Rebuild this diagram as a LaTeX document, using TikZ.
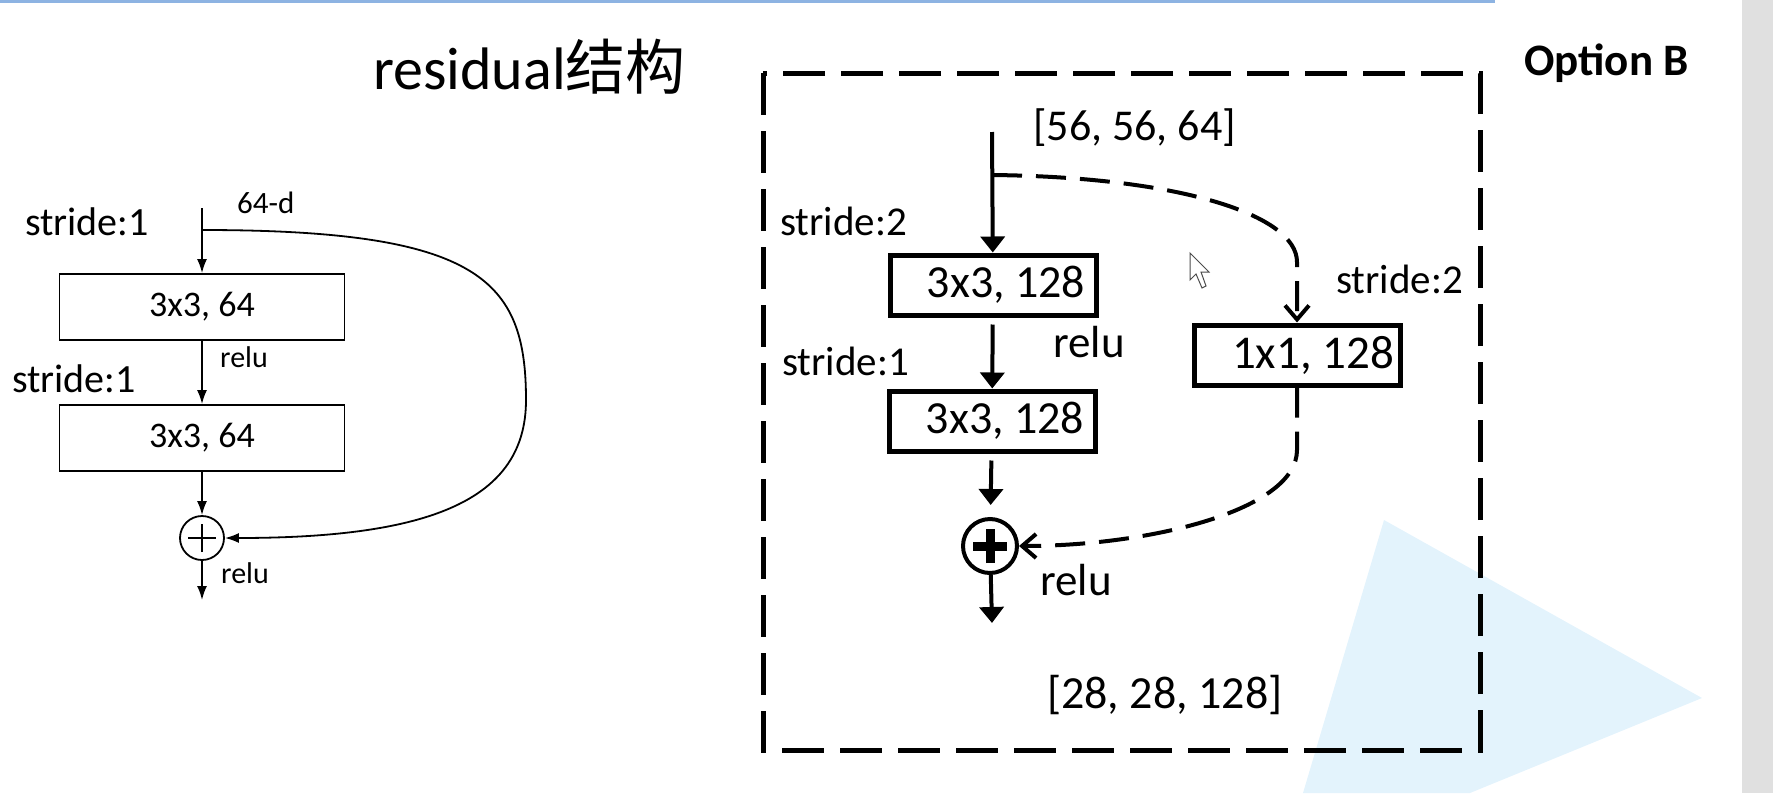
\documentclass[tikz,border=0pt]{standalone}
\usepackage{fontspec}
\setmainfont{Carlito}
\newfontfamily\cjk{Noto Sans CJK SC}
\usetikzlibrary{arrows.meta}

\definecolor{slideblue}{RGB}{141,179,226}
\definecolor{paleblue}{RGB}{227,243,252}
\definecolor{bargray}{RGB}{224,224,224}
\newcommand{\fsz}[1]{\fontsize{#1}{#1}\selectfont}

\begin{document}
\begin{tikzpicture}[x=1pt, y=-1pt,
		lbox/.style={draw, line width=1.8pt, minimum width=285pt, minimum height=66pt, inner sep=2pt, font=\fsz{36}},
		rbox/.style={draw, line width=5pt, minimum width=206pt, minimum height=60pt, inner sep=2pt, font=\fsz{46}},
		lbl/.style={anchor=base west, inner sep=0pt},
		larr/.style={-{Latex[length=14pt,width=10pt]}, line width=1.8pt},
		rarr/.style={-{Triangle[length=16pt,width=24pt]}, line width=4pt},
		darr/.style={-{Straight Barb[length=14pt,width=24pt]}, line width=4pt, dash pattern=on 30pt off 14pt}]
	\useasboundingbox (0,0) rectangle (1773,793);
	\fill[paleblue] (1384,520) -- (1702,698) -- (1470,793) -- (1303,793) -- cycle;
	\fill[bargray] (1742,0) rectangle (1773,793);
	\draw[slideblue, line width=3pt] (0,1.5) -- (1495,1.5);

	\node[lbl, font=\fsz{60}] (title) at (373,89) {residual{\cjk 结构}};
	\node[lbl, font=\fsz{45}\bfseries] (optb) at (1524,75) {Option B};

	% plain block
	\node[lbox] (lc1) at (202,307) {3x3, 64};
	\node[lbox] (lc2) at (202,438) {3x3, 64};
	\node[circle, draw, line width=1.8pt, minimum size=44pt, inner sep=0pt] (lplus) at (202,538) {};
	\draw[line width=1.5pt] ([xshift=-14pt]lplus.center) -- ([xshift=14pt]lplus.center)
		([yshift=-14pt]lplus.center) -- ([yshift=14pt]lplus.center);
	\coordinate (lin) at (202,208);
	\coordinate (lsplit) at (202,230);
	\coordinate (lout) at (202,600);
	\draw[larr] (lin) -- (lc1);
	\draw[larr] (lc1) -- (lc2);
	\draw[larr] (lc2) -- (lplus);
	\draw[larr] (lplus) -- (lout);
	\draw[larr] (lsplit) .. controls (480,230) and (526,280) .. (526,400) .. controls (526,500) and (430,538) .. (lplus.east);
	\node[lbl, font=\fsz{31}] (ldim) at (237,213) {64-d};
	\node[lbl, font=\fsz{40}] (lstride1) at (25,235) {stride:1};
	\node[lbl, font=\fsz{30}] (lrelu1) at (220,367) {relu};
	\node[lbl, font=\fsz{40}] (lstride2) at (12,392) {stride:1};
	\node[lbl, font=\fsz{30}] (lrelu2) at (221,583) {relu};

	% option B block
	\draw[line width=5pt, dash pattern=on 42pt off 16pt] (763,73) rectangle (1480,750);
	\node[rbox] (rc1) at (993,285) {\hspace*{26pt}3x3, 128};
	\node[rbox] (rc2) at (992,421) {\hspace*{26pt}3x3, 128};
	\node[rbox, font=\fsz{47}] (rsc) at (1297,355) {\hspace*{32pt}1x1, 128};
	\node[circle, draw, line width=4pt, minimum size=54pt, inner sep=0pt] (rplus) at (990,546) {};
	\draw[line width=9pt] ([xshift=-17pt]rplus.center) -- ([xshift=17pt]rplus.center)
		([yshift=-17pt]rplus.center) -- ([yshift=17pt]rplus.center);
	\coordinate (rin) at (992,132);
	\coordinate (rsplit) at (992,175);
	\coordinate (rout) at (992,623);
	\draw[rarr] (rin) -- (rc1);
	\draw[rarr, shorten <=7pt] (rc1) -- (rc2);
	\draw[rarr, shorten <=7pt, shorten >=12pt] (rc2) -- (rplus);
	\draw[rarr] (rplus) -- (rout);
	\draw[darr] (rsplit) .. controls (1180,177) and (1297,215) .. (1297,262) -- (rsc);
	\draw[darr] (rsc) -- (1297,450) .. controls (1297,510) and (1150,546) .. (rplus);
	\node[lbl, font=\fsz{44}] (rindim) at (1033,140) {[56, 56, 64]};
	\node[lbl, font=\fsz{41}] (rstride1) at (780,235) {stride:2};
	\node[lbl, font=\fsz{45}] (rrelu1) at (1053,357) {relu};
	\node[lbl, font=\fsz{41}] (rstride2) at (782,375) {stride:1};
	\node[lbl, font=\fsz{41}] (rstride3) at (1336,293) {stride:2};
	\node[lbl, font=\fsz{45}] (rrelu2) at (1040,595) {relu};
	\node[lbl, font=\fsz{46}] (routdim) at (1047,708) {[28, 28, 128]};

	\draw[gray!60!black, fill=white, line width=1pt] (1190,253) -- (1190,280) -- (1196,274) -- (1202,288)
		-- (1206,286) -- (1201,272) -- (1209,272) -- cycle;
\end{tikzpicture}
\end{document}
